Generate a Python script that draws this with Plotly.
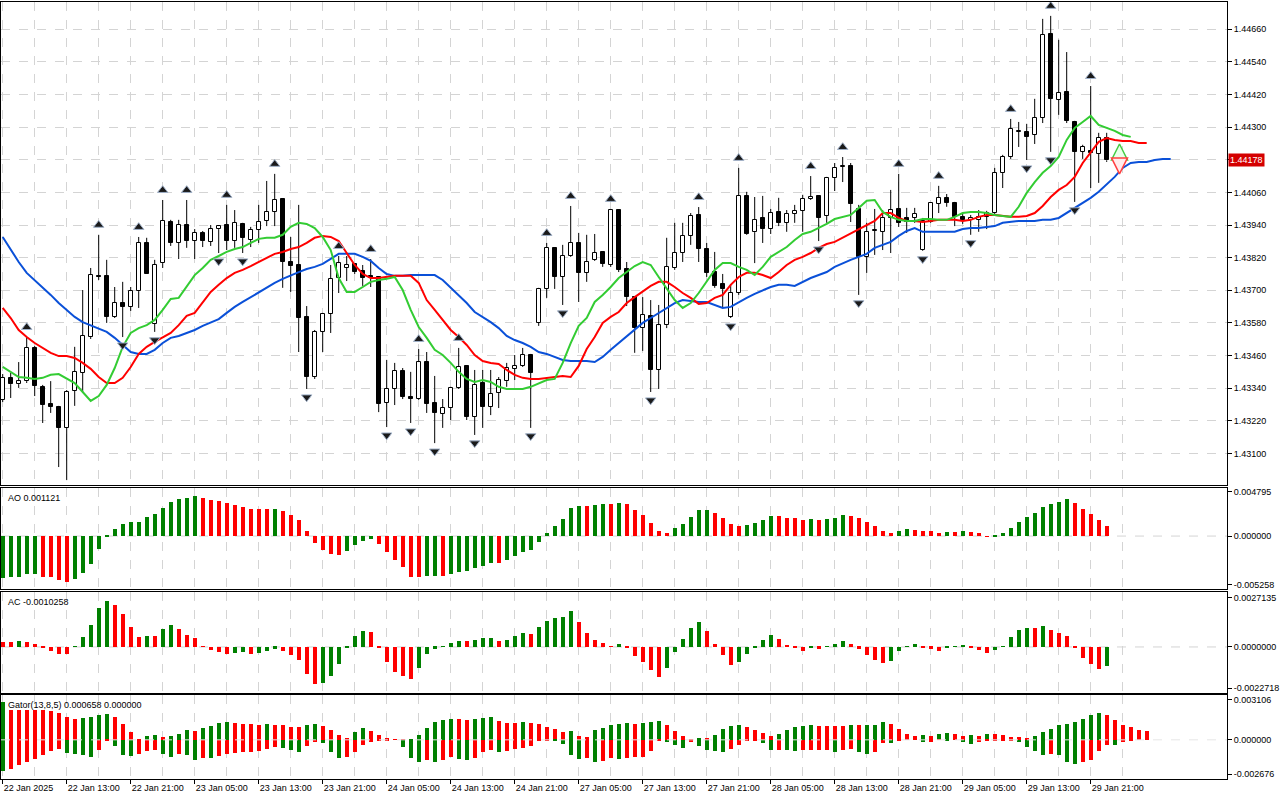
import plotly.graph_objects as go
from plotly.subplots import make_subplots

# ---- hourly bars, 22 Jan 2025 05:00 .. 29 Jan 2025 23:00 ----
open_ = [1.43297, 1.43378, 1.43355, 1.43366, 1.43488, 1.43345, 1.43282, 1.43271, 1.43194, 1.43330,
         1.43396, 1.43528, 1.43753, 1.43753, 1.43602, 1.43653, 1.43639, 1.43697, 1.43874, 1.43576,
         1.43800, 1.43951, 1.43874, 1.43940, 1.43881, 1.43911, 1.43878, 1.43925, 1.43940, 1.43881,
         1.43944, 1.43885, 1.43922, 1.43955, 1.43988, 1.44036, 1.43804, 1.43793, 1.43602, 1.43381,
         1.43547, 1.43613, 1.43745, 1.43782, 1.43797, 1.43771, 1.43753, 1.43749, 1.43286, 1.43337,
         1.43403, 1.43308, 1.43300, 1.43436, 1.43286, 1.43245, 1.43267, 1.43341, 1.43422, 1.43234,
         1.43359, 1.43271, 1.43322, 1.43366, 1.43411, 1.43422, 1.43462, 1.43580, 1.43705, 1.43856,
         1.43749, 1.43826, 1.43874, 1.43764, 1.43812, 1.43841, 1.43793, 1.43995, 1.43778, 1.43675,
         1.43561, 1.43606, 1.43407, 1.43572, 1.43782, 1.43837, 1.43900, 1.43977, 1.43852, 1.43767,
         1.43723, 1.43602, 1.43690, 1.44047, 1.43914, 1.43966, 1.43925, 1.43988, 1.43948, 1.43981,
         1.43992, 1.44036, 1.44047, 1.43973, 1.44113, 1.44154, 1.44157, 1.43999, 1.43823, 1.43918,
         1.43915, 1.43966, 1.43999, 1.43966, 1.43966, 1.43848, 1.43951, 1.44018, 1.44040, 1.44021,
         1.43970, 1.43959, 1.43959, 1.43970, 1.43984, 1.44131, 1.44190, 1.44282, 1.44282, 1.44271,
         1.44334, 1.44643, 1.44400, 1.44429, 1.44319, 1.44209, 1.44212, 1.44201, 1.44260]
high = [1.43392, 1.43396, 1.43436, 1.43528, 1.43495, 1.43352, 1.43366, 1.43275, 1.43333, 1.43492,
        1.43701, 1.43782, 1.43904, 1.43812, 1.43712, 1.43731, 1.43712, 1.43896, 1.43893, 1.43812,
        1.44032, 1.43959, 1.43959, 1.44032, 1.43925, 1.43918, 1.43940, 1.43940, 1.44014, 1.43995,
        1.43948, 1.43933, 1.44014, 1.44102, 1.44128, 1.44036, 1.43896, 1.44014, 1.43642, 1.43554,
        1.43617, 1.43793, 1.43826, 1.43826, 1.43800, 1.43793, 1.43815, 1.43749, 1.43444, 1.43433,
        1.43414, 1.43400, 1.43484, 1.43473, 1.43385, 1.43300, 1.43345, 1.43488, 1.43425, 1.43407,
        1.43407, 1.43407, 1.43381, 1.43433, 1.43462, 1.43488, 1.43466, 1.43709, 1.43874, 1.43859,
        1.43867, 1.44010, 1.43911, 1.43904, 1.43907, 1.43841, 1.43999, 1.43995, 1.43804, 1.43679,
        1.43675, 1.43664, 1.43646, 1.43893, 1.43948, 1.43948, 1.43984, 1.44006, 1.43874, 1.43841,
        1.43760, 1.43720, 1.44150, 1.44062, 1.44043, 1.44047, 1.43999, 1.44040, 1.43995, 1.44014,
        1.44051, 1.44120, 1.44047, 1.44117, 1.44168, 1.44190, 1.44168, 1.44014, 1.43948, 1.43999,
        1.43995, 1.44069, 1.44128, 1.44003, 1.44003, 1.43966, 1.44021, 1.44084, 1.44054, 1.44025,
        1.43984, 1.43977, 1.43995, 1.43992, 1.44150, 1.44198, 1.44330, 1.44319, 1.44312, 1.44404,
        1.44698, 1.44709, 1.44621, 1.44576, 1.44323, 1.44235, 1.44451, 1.44279, 1.44279]
low = [1.43289, 1.43304, 1.43341, 1.43359, 1.43311, 1.43212, 1.43249, 1.43050, 1.43002, 1.43275,
       1.43326, 1.43521, 1.43738, 1.43580, 1.43598, 1.43528, 1.43624, 1.43635, 1.43760, 1.43547,
       1.43782, 1.43863, 1.43815, 1.43856, 1.43815, 1.43859, 1.43863, 1.43837, 1.43848, 1.43856,
       1.43837, 1.43859, 1.43874, 1.43936, 1.43936, 1.43709, 1.43694, 1.43473, 1.43337, 1.43374,
       1.43473, 1.43543, 1.43690, 1.43734, 1.43760, 1.43716, 1.43712, 1.43252, 1.43197, 1.43278,
       1.43300, 1.43212, 1.43297, 1.43249, 1.43138, 1.43194, 1.43223, 1.43337, 1.43223, 1.43168,
       1.43194, 1.43241, 1.43267, 1.43345, 1.43370, 1.43418, 1.43194, 1.43569, 1.43672, 1.43705,
       1.43646, 1.43823, 1.43657, 1.43731, 1.43808, 1.43786, 1.43786, 1.43767, 1.43642, 1.43470,
       1.43477, 1.43326, 1.43337, 1.43561, 1.43775, 1.43804, 1.43867, 1.43804, 1.43749, 1.43709,
       1.43635, 1.43598, 1.43683, 1.43904, 1.43800, 1.43874, 1.43907, 1.43936, 1.43915, 1.43948,
       1.43915, 1.44032, 1.43881, 1.43948, 1.44065, 1.44098, 1.43951, 1.43683, 1.43764, 1.43830,
       1.43848, 1.43837, 1.43933, 1.43911, 1.43948, 1.43845, 1.43948, 1.43984, 1.44007, 1.43936,
       1.43944, 1.43904, 1.43915, 1.43925, 1.43977, 1.44076, 1.44183, 1.44227, 1.44179, 1.44238,
       1.44315, 1.44209, 1.44345, 1.44315, 1.44025, 1.44183, 1.44076, 1.44095, 1.44172]
close = [1.43378, 1.43355, 1.43366, 1.43488, 1.43348, 1.43278, 1.43271, 1.43194, 1.43326, 1.43400,
         1.43532, 1.43756, 1.43749, 1.43602, 1.43653, 1.43639, 1.43697, 1.43874, 1.43760, 1.43793,
         1.43955, 1.43874, 1.43940, 1.43881, 1.43911, 1.43881, 1.43925, 1.43936, 1.43881, 1.43948,
         1.43893, 1.43922, 1.43951, 1.43988, 1.44032, 1.43804, 1.43789, 1.43598, 1.43381, 1.43547,
         1.43613, 1.43742, 1.43800, 1.43793, 1.43767, 1.43745, 1.43745, 1.43282, 1.43337, 1.43403,
         1.43308, 1.43300, 1.43436, 1.43282, 1.43249, 1.43267, 1.43341, 1.43418, 1.43234, 1.43352,
         1.43271, 1.43319, 1.43370, 1.43414, 1.43422, 1.43462, 1.43396, 1.43705, 1.43856, 1.43749,
         1.43826, 1.43874, 1.43764, 1.43804, 1.43837, 1.43797, 1.43995, 1.43775, 1.43675, 1.43561,
         1.43609, 1.43407, 1.43572, 1.43786, 1.43837, 1.43900, 1.43973, 1.43852, 1.43764, 1.43716,
         1.43705, 1.43690, 1.44047, 1.43907, 1.43959, 1.43925, 1.43984, 1.43948, 1.43981, 1.43992,
         1.44036, 1.44043, 1.43966, 1.44113, 1.44150, 1.44157, 1.44018, 1.43823, 1.43915, 1.43922,
         1.43966, 1.43995, 1.43948, 1.43951, 1.43981, 1.43955, 1.44021, 1.44040, 1.44021, 1.43970,
         1.43959, 1.43966, 1.43970, 1.43984, 1.44131, 1.44190, 1.44293, 1.44286, 1.44264, 1.44334,
         1.44639, 1.44404, 1.44426, 1.44323, 1.44209, 1.44227, 1.44205, 1.44260, 1.44178]

# Alligator lines (shifted forward 8 / 5 / 3 bars)
jaw = [1.43896, 1.43848, 1.43804, 1.43764, 1.43738, 1.43712, 1.43683, 1.43653, 1.43628, 1.43602,
       1.43583, 1.43572, 1.43561, 1.43547, 1.43525, 1.43499, 1.43473, 1.43466, 1.43466, 1.43481,
       1.43506, 1.43525, 1.43532, 1.43543, 1.43554, 1.43569, 1.43583, 1.43594, 1.43617, 1.43639,
       1.43657, 1.43675, 1.43694, 1.43712, 1.43727, 1.43742, 1.43756, 1.43767, 1.43778, 1.43786,
       1.43797, 1.43815, 1.43834, 1.43834, 1.43834, 1.43823, 1.43808, 1.43782, 1.43760, 1.43753,
       1.43753, 1.43756, 1.43756, 1.43756, 1.43756, 1.43738, 1.43709, 1.43679, 1.43653, 1.43620,
       1.43602, 1.43583, 1.43561, 1.43532, 1.43517, 1.43506, 1.43492, 1.43473, 1.43466, 1.43455,
       1.43444, 1.43440, 1.43440, 1.43440, 1.43436, 1.43455, 1.43481, 1.43506, 1.43528, 1.43554,
       1.43580, 1.43598, 1.43617, 1.43635, 1.43653, 1.43664, 1.43661, 1.43657, 1.43657, 1.43646,
       1.43635, 1.43639, 1.43657, 1.43672, 1.43687, 1.43701, 1.43712, 1.43720, 1.43720, 1.43716,
       1.43731, 1.43745, 1.43756, 1.43767, 1.43786, 1.43800, 1.43812, 1.43823, 1.43834, 1.43856,
       1.43867, 1.43878, 1.43900, 1.43918, 1.43929, 1.43915, 1.43915, 1.43915, 1.43915, 1.43915,
       1.43925, 1.43929, 1.43929, 1.43933, 1.43936, 1.43948, 1.43951, 1.43955, 1.43955, 1.43955,
       1.43959, 1.43959, 1.43966, 1.43984, 1.44003, 1.44021, 1.44040, 1.44062, 1.44091, 1.44117,
       1.44150, 1.44168, 1.44172, 1.44172, 1.44179, 1.44183, 1.44183]
teeth = [1.43635, 1.43598, 1.43554, 1.43528, 1.43506, 1.43488, 1.43470, 1.43458, 1.43458, 1.43451,
         1.43433, 1.43411, 1.43381, 1.43359, 1.43359, 1.43378, 1.43418, 1.43466, 1.43492, 1.43510,
         1.43528, 1.43543, 1.43572, 1.43606, 1.43617, 1.43657, 1.43694, 1.43720, 1.43745, 1.43764,
         1.43775, 1.43789, 1.43804, 1.43819, 1.43834, 1.43841, 1.43852, 1.43859, 1.43874, 1.43893,
         1.43900, 1.43896, 1.43881, 1.43837, 1.43793, 1.43760, 1.43745, 1.43745, 1.43749, 1.43753,
         1.43753, 1.43753, 1.43727, 1.43664, 1.43628, 1.43591, 1.43554, 1.43528, 1.43499, 1.43462,
         1.43440, 1.43433, 1.43429, 1.43407, 1.43389, 1.43378, 1.43374, 1.43374, 1.43378, 1.43381,
         1.43385, 1.43381, 1.43422, 1.43484, 1.43528, 1.43580, 1.43602, 1.43620, 1.43653, 1.43675,
         1.43694, 1.43716, 1.43731, 1.43731, 1.43712, 1.43690, 1.43672, 1.43650, 1.43653, 1.43672,
         1.43683, 1.43720, 1.43749, 1.43764, 1.43764, 1.43756, 1.43745, 1.43767, 1.43793, 1.43812,
         1.43823, 1.43837, 1.43856, 1.43870, 1.43878, 1.43893, 1.43911, 1.43925, 1.43940, 1.43955,
         1.43984, 1.43984, 1.43966, 1.43955, 1.43955, 1.43951, 1.43955, 1.43959, 1.43959, 1.43959,
         1.43955, 1.43959, 1.43970, 1.43977, 1.43977, 1.43973, 1.43970, 1.43970, 1.43973, 1.43984,
         1.44010, 1.44043, 1.44069, 1.44087, 1.44117, 1.44168, 1.44209, 1.44246, 1.44260, 1.44253,
         1.44249, 1.44249, 1.44242, 1.44242]
lips = [1.43418, 1.43400, 1.43381, 1.43378, 1.43374, 1.43378, 1.43389, 1.43392, 1.43374, 1.43359,
        1.43326, 1.43293, 1.43311, 1.43352, 1.43414, 1.43492, 1.43543, 1.43561, 1.43572, 1.43591,
        1.43628, 1.43668, 1.43672, 1.43712, 1.43756, 1.43782, 1.43812, 1.43826, 1.43841, 1.43852,
        1.43859, 1.43874, 1.43889, 1.43893, 1.43893, 1.43904, 1.43933, 1.43948, 1.43944, 1.43929,
        1.43896, 1.43848, 1.43745, 1.43694, 1.43694, 1.43712, 1.43731, 1.43738, 1.43742, 1.43749,
        1.43701, 1.43628, 1.43565, 1.43525, 1.43481, 1.43462, 1.43433, 1.43400, 1.43374, 1.43363,
        1.43370, 1.43363, 1.43345, 1.43337, 1.43337, 1.43337, 1.43345, 1.43359, 1.43370, 1.43374,
        1.43433, 1.43506, 1.43569, 1.43598, 1.43657, 1.43683, 1.43712, 1.43745, 1.43767, 1.43789,
        1.43804, 1.43793, 1.43749, 1.43705, 1.43664, 1.43635, 1.43653, 1.43690, 1.43731, 1.43775,
        1.43800, 1.43800, 1.43786, 1.43775, 1.43756, 1.43786, 1.43823, 1.43841, 1.43859, 1.43885,
        1.43907, 1.43915, 1.43929, 1.43944, 1.43962, 1.43970, 1.43977, 1.44003, 1.44029, 1.44032,
        1.43988, 1.43970, 1.43959, 1.43955, 1.43955, 1.43962, 1.43962, 1.43959, 1.43959, 1.43970,
        1.43984, 1.43988, 1.43988, 1.43984, 1.43977, 1.43973, 1.43970, 1.44007, 1.44058, 1.44098,
        1.44132, 1.44157, 1.44190, 1.44253, 1.44297, 1.44319, 1.44341, 1.44308, 1.44297, 1.44286,
        1.44271, 1.44264]

fractal_up = [3, 12, 17, 20, 23, 28, 34, 42, 46, 52, 57, 68, 71, 76, 87, 92, 101, 105, 112, 117,
              126, 131, 136]
fractal_down = [8, 15, 19, 27, 30, 38, 48, 51, 54, 59, 66, 70, 81, 91, 102, 107, 115, 121, 128,
                131, 134]

# signal arrows to the right of the last bar
signal_bar = [139.6]
signal_buy = [1.44238]
signal_sell = [1.44128]

ao = [-0.00446, -0.00443, -0.00437, -0.00412, -0.00410, -0.00436, -0.00443, -0.00472, -0.00490, -0.00465,
      -0.00400, -0.00300, -0.00138, 0.00005, 0.00080, 0.00134, 0.00156, 0.00157, 0.00210, 0.00243,
      0.00309, 0.00374, 0.00407, 0.00417, 0.00436, 0.00417, 0.00392, 0.00381, 0.00363, 0.00338,
      0.00320, 0.00301, 0.00298, 0.00297, 0.00299, 0.00272, 0.00229, 0.00174, 0.00054, -0.00073,
      -0.00145, -0.00192, -0.00207, -0.00156, -0.00091, -0.00047, -0.00029, -0.00083, -0.00170, -0.00254,
      -0.00334, -0.00436, -0.00443, -0.00428, -0.00427, -0.00428, -0.00410, -0.00388, -0.00374, -0.00345,
      -0.00316, -0.00290, -0.00291, -0.00254, -0.00218, -0.00170, -0.00145, -0.00062, 0.00036, 0.00109,
      0.00189, 0.00309, 0.00327, 0.00326, 0.00338, 0.00352, 0.00351, 0.00363, 0.00352, 0.00283,
      0.00229, 0.00145, 0.00058, 0.00033, 0.00091, 0.00134, 0.00210, 0.00283, 0.00284, 0.00254,
      0.00196, 0.00134, 0.00109, 0.00120, 0.00145, 0.00178, 0.00218, 0.00217, 0.00196, 0.00195,
      0.00178, 0.00185, 0.00174, 0.00189, 0.00200, 0.00229, 0.00218, 0.00196, 0.00152, 0.00109,
      0.00054, 0.00033, 0.00054, 0.00076, 0.00074, 0.00054, 0.00053, 0.00033, 0.00044, 0.00043,
      0.00054, 0.00044, 0.00033, -0.00005, 0.00010, 0.00033, 0.00087, 0.00156, 0.00207, 0.00254,
      0.00316, 0.00348, 0.00374, 0.00403, 0.00363, 0.00294, 0.00240, 0.00178, 0.001121]
ac = [0.00029, 0.00028, 0.00033, 0.00029, 0.00016, -0.00004, -0.00020, -0.00037, -0.00038, 0.00002,
      0.00055, 0.00121, 0.00214, 0.00253, 0.00231, 0.00183, 0.00110, 0.00055, 0.00060, 0.00059,
      0.00099, 0.00121, 0.00099, 0.00066, 0.00049, 0.00005, -0.00015, -0.00026, -0.00037, -0.00031,
      -0.00030, -0.00037, -0.00031, -0.00020, -0.00009, -0.00020, -0.00042, -0.00070, -0.00146, -0.00201,
      -0.00200, -0.00157, -0.00092, -0.00004, 0.00060, 0.00088, 0.00082, -0.00004, -0.00080, -0.00135,
      -0.00160, -0.00174, -0.00113, -0.00040, -0.00009, 0.00002, 0.00024, 0.00033, 0.00032, 0.00038,
      0.00049, 0.00050, 0.00033, 0.00038, 0.00060, 0.00077, 0.00071, 0.00110, 0.00143, 0.00159,
      0.00165, 0.00198, 0.00137, 0.00077, 0.00038, 0.00022, 0.00005, 0.00016, -0.00004, -0.00049,
      -0.00080, -0.00126, -0.00165, -0.00113, -0.00026, 0.00044, 0.00104, 0.00137, 0.00088, 0.00016,
      -0.00042, -0.00099, -0.00080, -0.00037, -0.00002, 0.00038, 0.00066, 0.00044, 0.00011, -0.00004,
      -0.00020, -0.00004, -0.00009, 0.00002, 0.00016, 0.00033, 0.00016, -0.00009, -0.00042, -0.00070,
      -0.00086, -0.00075, -0.00020, 0.00005, 0.00016, -0.00004, -0.00009, -0.00020, -0.00004, 0.00001,
      0.00011, -0.00004, -0.00015, -0.00031, -0.00015, 0.00005, 0.00055, 0.00093, 0.00104, 0.00103,
      0.00115, 0.00093, 0.00077, 0.00060, -0.00004, -0.00059, -0.00092, -0.00119, -0.0010258]
gator_up = [0.00293, 0.00233, 0.00233, 0.00233, 0.00233, 0.00232, 0.00223, 0.00207, 0.00176, 0.00163,
            0.00171, 0.00176, 0.00192, 0.00202, 0.00176, 0.00124, 0.00060, 0.00002, 0.00028, 0.00036,
            0.00021, 0.00028, 0.00047, 0.00078, 0.00070, 0.00093, 0.00109, 0.00130, 0.00140, 0.00130,
            0.00124, 0.00123, 0.00117, 0.00124, 0.00117, 0.00114, 0.00101, 0.00100, 0.00114, 0.00124,
            0.00109, 0.00078, 0.00039, 0.00016, 0.00062, 0.00088, 0.00070, 0.00039, 0.00016, 0.00003,
            0.00001, 0.00002, 0.00039, 0.00093, 0.00140, 0.00155, 0.00163, 0.00162, 0.00155, 0.00163,
            0.00171, 0.00172, 0.00148, 0.00132, 0.00131, 0.00140, 0.00132, 0.00124, 0.00101, 0.00085,
            0.00062, 0.00070, 0.00031, 0.00023, 0.00078, 0.00093, 0.00117, 0.00124, 0.00132, 0.00124,
            0.00132, 0.00140, 0.00141, 0.00117, 0.00070, 0.00031, 0.00001, 0.00016, 0.00005, 0.00039,
            0.00085, 0.00109, 0.00110, 0.00101, 0.00078, 0.00054, 0.00031, 0.00047, 0.00078, 0.00101,
            0.00109, 0.00110, 0.00109, 0.00108, 0.00107, 0.00102, 0.00117, 0.00110, 0.00111, 0.00117,
            0.00133, 0.00125, 0.00086, 0.00047, 0.00031, 0.00032, 0.00031, 0.00047, 0.00048, 0.00047,
            0.00031, 0.00032, 0.00031, 0.00047, 0.00046, 0.00039, 0.00023, 0.00022, 0.00016, 0.00031,
            0.00055, 0.00086, 0.00110, 0.00125, 0.00133, 0.00164, 0.00188, 0.00204, 0.00188, 0.00149,
            0.00110, 0.00094, 0.00078, 0.000658]
gator_down = [-0.00243, -0.00231, -0.00199, -0.00176, -0.00153, -0.00122, -0.00091, -0.00075, -0.00101, -0.00109,
              -0.00122, -0.00137, -0.00083, -0.00005, -0.00052, -0.00122, -0.00130, -0.00109, -0.00091, -0.00083,
              -0.00109, -0.00137, -0.00109, -0.00122, -0.00161, -0.00145, -0.00146, -0.00130, -0.00114, -0.00106,
              -0.00098, -0.00097, -0.00091, -0.00075, -0.00060, -0.00067, -0.00083, -0.00098, -0.00052, -0.00018,
              -0.00023, -0.00098, -0.00142, -0.00135, -0.00098, -0.00044, -0.00021, -0.00013, -0.00005, -0.00002,
              -0.00057, -0.00145, -0.00174, -0.00161, -0.00176, -0.00161, -0.00137, -0.00150, -0.00158, -0.00142,
              -0.00098, -0.00083, -0.00098, -0.00091, -0.00075, -0.00067, -0.00052, -0.00013, -0.00005, -0.00013,
              -0.00036, -0.00122, -0.00150, -0.00142, -0.00176, -0.00166, -0.00145, -0.00150, -0.00142, -0.00137,
              -0.00135, -0.00091, -0.00013, -0.00021, -0.00044, -0.00067, -0.00021, -0.00052, -0.00083, -0.00091,
              -0.00098, -0.00075, -0.00044, -0.00013, -0.00010, -0.00028, -0.00083, -0.00082, -0.00083, -0.00091,
              -0.00083, -0.00082, -0.00080, -0.00078, -0.00094, -0.00078, -0.00070, -0.00094, -0.00110, -0.00094,
              -0.00023, -0.00024, -0.00010, -0.00001, -0.00001, -0.00021, -0.00020, -0.00003, -0.00004, -0.00002,
              -0.00021, -0.00031, -0.00021, -0.00008, -0.00007, -0.00006, -0.00005, -0.00021, -0.00055, -0.00091,
              -0.00123, -0.00115, -0.00123, -0.00172, -0.00193, -0.00177, -0.00162, -0.00086, -0.00039, -0.00044,
              -0.00021, -0.00008]

time_labels = ["22 Jan 2025", "22 Jan 13:00", "22 Jan 21:00", "23 Jan 05:00", "23 Jan 13:00",
               "23 Jan 21:00", "24 Jan 05:00", "24 Jan 13:00", "24 Jan 21:00", "27 Jan 05:00",
               "27 Jan 13:00", "27 Jan 21:00", "28 Jan 05:00", "28 Jan 13:00", "28 Jan 21:00",
               "29 Jan 05:00", "29 Jan 13:00", "29 Jan 21:00"]
price_ticks = [1.43100, 1.43220, 1.43340, 1.43460, 1.43580, 1.43700, 1.43820, 1.43940,
               1.44060, 1.44180, 1.44300, 1.44420, 1.44540, 1.44660]
ao_ticks = [0.004795, 0.0, -0.005258]
ac_ticks = [0.0027135, 0.0, -0.0022718]
gator_ticks = [0.003106, 0.0, -0.002676]

# ---- style ----
FONT = "Liberation Sans"
FS = 9
GRID = "#d4d4d4"
UP, DOWN = "#008000", "#ff0000"
last_price = close[-1]

n = len(close)
bars = list(range(n))


def hist_colors(values, first, magnitude=False):
    cols = [first]
    for a, b in zip(values, values[1:]):
        if magnitude:
            a, b = abs(a), abs(b)
        cols.append(UP if b > a else DOWN)
    return cols


fig = make_subplots(rows=4, cols=1, shared_xaxes=True, vertical_spacing=0.003,
                    row_heights=[483, 102, 101, 84])

fig.add_hline(y=last_price, line_color="#ff0000", line_width=1, layer="below", row=1, col=1)

# candles: wicks split so they don't cross the white bodies
wx, wy = [], []
for i in bars:
    top, bot = max(open_[i], close[i]), min(open_[i], close[i])
    wx += [i, i, None, i, i, None]
    wy += [high[i], top, None, bot, low[i], None]
fig.add_trace(go.Scatter(x=wx, y=wy, mode="lines", line=dict(color="black", width=1),
                         hoverinfo="skip"), row=1, col=1)
fig.add_trace(go.Bar(
    x=bars,
    y=[max(abs(c - o), 0.00002) for o, c in zip(open_, close)],
    base=[min(o, c) for o, c in zip(open_, close)],
    width=0.52,
    marker=dict(color=["white" if c >= o else "black" for o, c in zip(open_, close)],
                line=dict(color="black", width=1)),
), row=1, col=1)

# alligator
fig.add_trace(go.Scatter(x=list(range(len(jaw))), y=jaw, mode="lines",
                         line=dict(color="#0a50d8", width=2)), row=1, col=1)
fig.add_trace(go.Scatter(x=list(range(len(teeth))), y=teeth, mode="lines",
                         line=dict(color="#ff0000", width=2)), row=1, col=1)
fig.add_trace(go.Scatter(x=list(range(len(lips))), y=lips, mode="lines",
                         line=dict(color="#33cc33", width=2)), row=1, col=1)

# fractals
fig.add_trace(go.Scatter(x=fractal_up, y=[high[i] + 0.00036 for i in fractal_up], mode="markers",
                         marker=dict(symbol="triangle-up", size=9, color="#1a1a1a",
                                     line=dict(color="#9fb0c8", width=1))), row=1, col=1)
fig.add_trace(go.Scatter(x=fractal_down, y=[low[i] - 0.00030 for i in fractal_down], mode="markers",
                         marker=dict(symbol="triangle-down", size=9, color="#1a1a1a",
                                     line=dict(color="#9fb0c8", width=1))), row=1, col=1)

# signal arrows
fig.add_trace(go.Scatter(x=signal_bar, y=signal_buy, mode="markers",
                         marker=dict(symbol="arrow-up", size=16, color="#eaffea",
                                     line=dict(color="#44cc44", width=1.5))), row=1, col=1)
fig.add_trace(go.Scatter(x=signal_bar, y=signal_sell, mode="markers",
                         marker=dict(symbol="arrow-down", size=16, color="#ffecec",
                                     line=dict(color="#ff4040", width=1.5))), row=1, col=1)

# oscillators
fig.add_trace(go.Bar(x=bars, y=ao, width=0.5, marker_color=hist_colors(ao, UP),
                     marker_line_width=0), row=2, col=1)
fig.add_trace(go.Bar(x=bars, y=ac, width=0.5, marker_color=hist_colors(ac, DOWN),
                     marker_line_width=0), row=3, col=1)
fig.add_trace(go.Bar(x=list(range(len(gator_up))), y=gator_up, width=0.5,
                     marker_color=hist_colors(gator_up, UP), marker_line_width=0), row=4, col=1)
fig.add_trace(go.Bar(x=list(range(len(gator_down))), y=gator_down, width=0.5,
                     marker_color=hist_colors(gator_down, UP, magnitude=True),
                     marker_line_width=0), row=4, col=1)

for r in (2, 3):
    fig.add_hline(y=0, line_color=GRID, line_width=1, line_dash="dash", layer="below", row=r, col=1)
fig.add_hline(y=0, line_color="#e6e6e6", line_width=1, line_dash="dash", layer="above", row=4, col=1)

# ---- axes ----
label_bars = [8 * k for k in range(len(time_labels))]
x_lo = -0.2125
x_hi = x_lo + 1226 / 8
for r in range(1, 5):
    fig.update_xaxes(
        row=r, col=1, range=[x_lo, x_hi], rangeslider_visible=False,
        tickmode="array", tickvals=label_bars, ticktext=time_labels, tickangle=0,
        showticklabels=(r == 4), ticks="outside" if r == 4 else "", ticklen=4,
        ticklabelposition="outside right", tickcolor="black",
        showgrid=True, gridcolor=GRID, griddash="dash", gridwidth=1,
        minor=dict(tickmode="array", tickvals=list(range(4, 147, 8)), showgrid=True,
                   gridcolor=GRID, griddash="dash", gridwidth=1, ticks=""),
        showline=True, mirror=True, linecolor="black", linewidth=1, zeroline=False,
    )

# the last-price tag sits over the 1.44180 level, so that label is left blank
price_text = ["" if abs(p - last_price) < 0.0001 else "%.5f" % p for p in price_ticks]

common_y = dict(side="right", ticks="outside", ticklen=4, tickcolor="black",
                showline=True, mirror=True, linecolor="black", linewidth=1, zeroline=False)
fig.update_yaxes(row=1, col=1, range=[1.42984, 1.44760], tickvals=price_ticks,
                 ticktext=price_text, showgrid=True, gridcolor=GRID, griddash="dash", **common_y)
fig.update_yaxes(row=2, col=1, range=[-0.00578, 0.00523], tickvals=ao_ticks,
                 ticktext=["%.6f" % v for v in ao_ticks], showgrid=False, **common_y)
fig.update_yaxes(row=3, col=1, range=[-0.00253, 0.00302], tickvals=ac_ticks,
                 ticktext=["%.7f" % v for v in ac_ticks], showgrid=False, **common_y)
fig.update_yaxes(row=4, col=1, range=[-0.00305, 0.00347], tickvals=gator_ticks,
                 ticktext=["%.6f" % v for v in gator_ticks], showgrid=False, **common_y)

fig.update_layout(
    width=1280, height=800,
    margin=dict(l=1, r=53, t=1, b=21),
    plot_bgcolor="white", paper_bgcolor="white",
    showlegend=False, barmode="overlay", bargap=0,
    font=dict(family=FONT, size=FS, color="black"),
    yaxis=dict(domain=[0.3779, 0.9987]),
    yaxis2=dict(domain=[0.2436, 0.3744]),
    yaxis3=dict(domain=[0.1105, 0.2404]),
    yaxis4=dict(domain=[0.0, 0.1076]),
)

# panel captions
panel_text = [("AO %.6f" % ao[-1], 0.3744), ("AC %.7f" % ac[-1], 0.2404),
              ("Gator(13,8,5) %.6f %.6f" % (gator_up[-1], 0.0), 0.1076)]
for txt, ytop in panel_text:
    fig.add_annotation(text=txt, xref="paper", yref="paper", x=0.004, y=ytop - 0.004,
                       xanchor="left", yanchor="top", showarrow=False,
                       font=dict(family=FONT, size=FS, color="black"))

# last price tag on the price scale
fig.add_annotation(text="%.5f" % last_price, xref="paper", yref="y", x=1.0, y=last_price,
                   xanchor="left", yanchor="middle", xshift=1, showarrow=False,
                   bgcolor="#d40000", borderpad=1,
                   font=dict(family=FONT, size=FS, color="white"))

# page body margin would push the 1280x800 figure off the window
fig.write_html("out.html", config={"displayModeBar": False},
               post_script="document.body.style.margin = '0';")
